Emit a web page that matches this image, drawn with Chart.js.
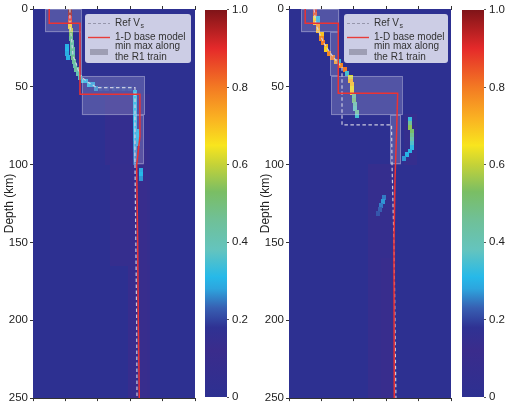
<!DOCTYPE html>
<html><head><meta charset="utf-8">
<script src="https://cdn.jsdelivr.net/npm/chart.js@4/dist/chart.umd.min.js"></script>
<style>
html,body{margin:0;padding:0;background:#fff;width:512px;height:407px;overflow:hidden}
canvas{position:absolute;top:0}
</style></head><body>
<canvas id="mainL" width="200" height="407" style="left:0px"></canvas>
<canvas id="cbarL" width="56" height="407" style="left:200px"></canvas>
<canvas id="mainR" width="200" height="407" style="left:256px"></canvas>
<canvas id="cbarR" width="56" height="407" style="left:456px"></canvas>
<script>
// ---------- ticks ----------
const depthTicks = [0, 50, 100, 150, 200, 250];
const velTicks = [2.5, 3.0, 3.5, 4.0, 4.5, 5.0];
const colorbarTicks = [0, 0.2, 0.4, 0.6, 0.8, 1.0];
const legendLabels = ['Ref V', 's', '1-D base model', 'min max along', 'the R1 train'];

// ---------- left panel ----------
const L_refVel   = [3.07, 3.07, 3.097, 3.117, 3.174, 3.225, 3.349, 3.483, 4.074, 4.074, 4.10, 4.105];
const L_refDepth = [0, 10, 20, 30, 36, 43, 47, 50.5, 50.5, 100, 200, 250];
const L_baseVel   = [2.75, 2.75, 3.225, 3.225, 4.15, 4.15, 4.10, 4.115, 4.125, 4.14];
const L_baseDepth = [0, 9.2, 9.2, 54.7, 54.7, 82, 100, 150, 200, 250];
const L_boxVelMin = [2.685, 3.21, 3.252, 4.06];
const L_boxVelMax = [3.252, 3.256, 4.228, 4.21];
const L_boxDepthTop = [0, 15, 43, 68.2];
const L_boxDepthBot = [15, 43, 68.2, 100];
const L_bandVelMin = [3.62, 3.70, 3.97, 4.02];
const L_bandVelMax = [4.30, 4.30, 4.30, 4.25];
const L_bandDepthTop = [55, 100, 165, 90];
const L_bandDepthBot = [100, 165, 250, 250];
const L_bandVal = [0.06, 0.07, 0.08, 0.1];
const L_cellVel = [3.07,3.07,3.07,3.07,3.07,3.09,3.09,3.09,3.10,3.02,3.10,3.02,3.11,3.02,3.11,3.04,3.12,3.13,3.15,3.17,3.20,3.23,3.27,3.32,3.37,3.42,3.47,
  3.55,3.60,3.65,3.70,3.75,3.80,3.85,3.90,3.95,4.00,
  4.07,4.07,4.07,4.07,4.07,4.07,4.07,4.07,4.07,4.07,4.07,4.07,4.07,4.07,4.07,4.07,4.07,4.07,4.07,
  4.12,4.12,4.12,4.12,
  4.17,4.17,4.17];
const L_cellDepth = [1.25,3.75,6.25,8.75,11.25,13.75,16.25,18.75,21.25,23.75,23.75,26.25,26.25,28.75,28.75,31.25,31.25,33.75,36.25,38.75,41.25,43.75,46.25,46.25,48.75,48.75,51.25,
  51.25,51.25,51.25,51.25,51.25,51.25,51.25,51.25,51.25,51.25,
  53.75,56.25,58.75,61.25,63.75,66.25,68.75,71.25,73.75,76.25,78.75,81.25,83.75,86.25,88.75,91.25,93.75,96.25,98.75,
  78.75,81.25,83.75,86.25,
  103.75,106.25,108.75];
const L_cellVal = [1.0,0.97,0.9,0.84,0.68,0.6,0.52,0.46,0.43,0.3,0.42,0.31,0.44,0.29,0.4,0.3,0.47,0.45,0.42,0.44,0.4,0.37,0.33,0.3,0.32,0.28,0.26,
  0.2,0.19,0.2,0.18,0.2,0.19,0.19,0.2,0.19,0.2,
  0.3,0.32,0.33,0.31,0.32,0.3,0.31,0.32,0.3,0.3,0.29,0.28,0.28,0.27,0.27,0.26,0.25,0.25,0.24,
  0.3,0.31,0.3,0.29,
  0.29,0.31,0.27];

// ---------- right panel ----------
const R_refVel   = [2.886, 2.917, 2.963, 3.04, 3.133, 3.225, 3.318, 3.318, 4.082, 4.09, 4.12, 4.15];
const R_refDepth = [0, 10, 15, 22, 28, 33, 37.5, 74.4, 74.4, 100, 150, 250];
const R_baseVel   = [2.75, 2.75, 3.26, 3.26, 4.177, 4.16, 4.135, 4.12, 4.125];
const R_baseDepth = [0, 9.2, 9.2, 54.2, 54.2, 80, 110, 150, 250];
const R_boxVelMin = [2.685, 3.133, 3.148, 4.06];
const R_boxVelMax = [3.276, 3.272, 4.255, 4.228];
const R_boxDepthTop = [0, 15, 43, 68.2];
const R_boxDepthBot = [15, 43, 68.2, 100];
const R_bandVelMin = [4.28, 3.73, 3.93];
const R_bandVelMax = [4.47, 4.15, 4.12];
const R_bandDepthTop = [68, 100, 160];
const R_bandDepthBot = [100, 250, 250];
const R_bandVal = [0.07, 0.07, 0.1];
const R_cellVel = [2.9,2.9,2.9,2.95,2.9,2.95,2.95,2.95,3.0,3.0,3.03,3.07,3.07,3.12,3.17,3.22,3.27,3.3,3.37,3.4,3.45,3.45,3.47,3.47,3.47,3.5,3.5,3.52,3.52,3.55,3.55,
  4.37,4.37,4.37,4.4,4.4,4.4,4.4,4.4,4.37,4.32,4.28,
  3.97,3.95,3.92,3.9,3.87];
const R_cellDepth = [1.25,3.75,6.25,6.25,8.75,8.75,11.25,13.75,16.25,18.75,21.25,23.75,26.25,28.75,31.25,33.75,33.75,36.25,38.75,41.25,43.75,46.25,48.75,51.25,53.75,56.25,58.75,61.25,63.75,66.25,68.75,
  71.25,73.75,76.25,78.75,81.25,83.75,86.25,88.75,91.25,93.75,96.25,
  121.25,123.75,126.25,128.75,131.25];
const R_cellVal = [0.92,0.85,0.66,0.32,0.7,0.3,0.76,0.72,0.7,0.78,0.8,0.72,0.68,0.78,0.8,0.75,0.34,0.78,0.8,0.35,0.62,0.72,0.7,0.64,0.68,0.45,0.5,0.42,0.38,0.45,0.35,
  0.33,0.45,0.55,0.52,0.47,0.42,0.36,0.32,0.3,0.3,0.27,
  0.25,0.27,0.25,0.23,0.22];

// ---------- styling ----------
const FONT = "'Liberation Sans', Arial, Helvetica, sans-serif";
Chart.defaults.font.family = FONT;
Chart.defaults.color = '#222';
const CELL_DV = 0.05, CELL_DZ = 2.5;
const CMAP = [
  [0.00,[45,48,145]],[0.12,[58,44,140]],[0.18,[47,50,147]],[0.23,[55,95,178]],
  [0.28,[45,165,222]],[0.31,[38,185,233]],[0.38,[100,196,190]],[0.46,[112,192,150]],
  [0.53,[122,190,100]],[0.60,[196,210,56]],[0.65,[248,229,30]],[0.72,[250,178,34]],
  [0.80,[243,122,35]],[0.90,[229,42,42]],[1.00,[127,20,24]]
];
function cmap(v){
  v = Math.max(0, Math.min(1, v));
  for (let i = 1; i < CMAP.length; i++){
    if (v <= CMAP[i][0]){
      const [a, ca] = CMAP[i-1], [b, cb] = CMAP[i];
      const t = (v - a) / (b - a);
      const c = ca.map((k, j) => Math.round(k + (cb[j] - k) * t));
      return `rgb(${c[0]},${c[1]},${c[2]})`;
    }
  }
  const c = CMAP[CMAP.length-1][1];
  return `rgb(${c[0]},${c[1]},${c[2]})`;
}

const PANELS = {
  L: {refVel:L_refVel, refDepth:L_refDepth, baseVel:L_baseVel, baseDepth:L_baseDepth,
      boxVelMin:L_boxVelMin, boxVelMax:L_boxVelMax, boxDepthTop:L_boxDepthTop, boxDepthBot:L_boxDepthBot,
      bandVelMin:L_bandVelMin, bandVelMax:L_bandVelMax, bandDepthTop:L_bandDepthTop, bandDepthBot:L_bandDepthBot, bandVal:L_bandVal,
      cellVel:L_cellVel, cellDepth:L_cellDepth, cellVal:L_cellVal, legX:52, legW:106},
  R: {refVel:R_refVel, refDepth:R_refDepth, baseVel:R_baseVel, baseDepth:R_baseDepth,
      boxVelMin:R_boxVelMin, boxVelMax:R_boxVelMax, boxDepthTop:R_boxDepthTop, boxDepthBot:R_boxDepthBot,
      bandVelMin:R_bandVelMin, bandVelMax:R_bandVelMax, bandDepthTop:R_bandDepthTop, bandDepthBot:R_bandDepthBot, bandVal:R_bandVal,
      cellVel:R_cellVel, cellDepth:R_cellDepth, cellVal:R_cellVal, legX:55, legW:104}
};

function fillBox(ctx, x, y, v0, v1, z0, z1){
  const px0 = Math.floor(x.getPixelForValue(v0)), px1 = Math.ceil(x.getPixelForValue(v1));
  const py0 = Math.floor(y.getPixelForValue(z0)), py1 = Math.ceil(y.getPixelForValue(z1));
  ctx.fillRect(px0, py0, px1 - px0, py1 - py0);
}

const heatPlugin = {
  id: 'heat',
  beforeDatasetsDraw(chart, args, opts){
    const P = opts.panel; if (!P) return;
    const {ctx, chartArea: a} = chart;
    const x = chart.scales.x, y = chart.scales.y;
    ctx.save();
    ctx.beginPath(); ctx.rect(a.left, a.top, a.right - a.left, a.bottom - a.top); ctx.clip();
    ctx.fillStyle = cmap(0);
    fillBox(ctx, x, y, x.min, x.max, y.min, y.max);
    P.bandVal.forEach((v, i) => {
      ctx.fillStyle = cmap(v);
      fillBox(ctx, x, y, P.bandVelMin[i], P.bandVelMax[i], P.bandDepthTop[i], P.bandDepthBot[i]);
    });
    P.cellVal.forEach((v, i) => {
      ctx.fillStyle = cmap(v);
      fillBox(ctx, x, y, P.cellVel[i] - CELL_DV/2, P.cellVel[i] + CELL_DV/2, P.cellDepth[i] - CELL_DZ/2, P.cellDepth[i] + CELL_DZ/2);
    });
    // min-max boxes
    P.boxVelMin.forEach((v0, i) => {
      const px0 = x.getPixelForValue(v0), px1 = x.getPixelForValue(P.boxVelMax[i]);
      const py0 = y.getPixelForValue(P.boxDepthTop[i]), py1 = y.getPixelForValue(P.boxDepthBot[i]);
      ctx.fillStyle = 'rgba(215,215,235,0.22)';
      ctx.fillRect(px0, py0, px1 - px0, py1 - py0);
      ctx.strokeStyle = 'rgba(215,215,235,0.35)';
      ctx.lineWidth = 1;
      ctx.strokeRect(Math.round(px0)+0.5, Math.round(py0)+0.5, Math.round(px1-px0)-1, Math.round(py1-py0)-1);
    });
    ctx.restore();
  },
  afterDatasetsDraw(chart, args, opts){
    const P = opts.panel; if (!P) return;
    const {ctx, chartArea: a} = chart;
    const bx = a.left + P.legX, by = a.top + 5, bw = P.legW, bh = 49;
    ctx.save();
    ctx.fillStyle = 'rgba(255,255,255,0.76)';
    ctx.beginPath();
    ctx.roundRect(bx, by, bw, bh, 3);
    ctx.fill();
    // Ref Vs
    ctx.strokeStyle = 'rgb(150,150,172)'; ctx.lineWidth = 1.2;
    ctx.setLineDash([3, 2]);
    ctx.beginPath(); ctx.moveTo(bx + 3, by + 9.5); ctx.lineTo(bx + 25, by + 9.5); ctx.stroke();
    ctx.setLineDash([]);
    // base model
    ctx.strokeStyle = 'rgb(232,60,58)'; ctx.lineWidth = 1.4;
    ctx.beginPath(); ctx.moveTo(bx + 3, by + 23.5); ctx.lineTo(bx + 25, by + 23.5); ctx.stroke();
    // min max patch
    ctx.fillStyle = 'rgb(158,158,180)';
    ctx.fillRect(bx + 5, by + 35, 18, 6);
    ctx.fillStyle = '#333';
    ctx.textBaseline = 'middle';
    ctx.font = `10px ${FONT}`;
    ctx.fillText(legendLabels[0], bx + 30, by + 9);
    const w = ctx.measureText(legendLabels[0]).width;
    ctx.font = `7px ${FONT}`;
    ctx.fillText(legendLabels[1], bx + 30 + w + 0.5, by + 12);
    ctx.font = `10px ${FONT}`;
    ctx.fillText(legendLabels[2], bx + 30, by + 23);
    ctx.fillText(legendLabels[3], bx + 30, by + 32.5);
    ctx.fillText(legendLabels[4], bx + 30, by + 43.5);
    ctx.restore();
  }
};

function xAxis(pos, h){
  return {
    type: 'linear', position: pos, min: velTicks[0], max: velTicks[velTicks.length-1],
    afterBuildTicks: s => { s.ticks = velTicks.map(v => ({value: v})); },
    ticks: {display: false},
    grid: {drawOnChartArea: false, drawTicks: true, tickLength: 3, color: '#333'},
    border: {display: true, color: '#333', width: 1},
    afterFit: s => { s.height = h; }
  };
}

function mainChart(id, P){
  return new Chart(document.getElementById(id), {
    type: 'scatter',
    data: {datasets: [
      {label: '1-D base model', data: P.baseVel.map((v, i) => ({x: v, y: P.baseDepth[i]})),
       showLine: true, borderColor: 'rgb(236,50,50)', borderWidth: 1.5, pointRadius: 0, fill: false, order: 0},
      {label: 'Ref Vs', data: P.refVel.map((v, i) => ({x: v, y: P.refDepth[i]})),
       showLine: true, borderColor: 'rgba(210,210,228,0.95)', borderDash: [3.5, 2.5], borderWidth: 1.2, pointRadius: 0, fill: false, order: 1}
    ]},
    options: {
      responsive: false, animation: false, events: [],
      layout: {padding: {left: 0, right: 5, top: 0, bottom: 0}},
      plugins: {legend: {display: false}, tooltip: {enabled: false}, heat: {panel: P}},
      scales: {
        x: xAxis('bottom', 2.5),
        x2: xAxis('top', 9),
        y: {
          type: 'linear', reverse: true, min: depthTicks[0], max: depthTicks[depthTicks.length-1],
          afterBuildTicks: s => { s.ticks = depthTicks.map(v => ({value: v})); },
          ticks: {font: {size: 11.5}, color: '#222', padding: 2},
          grid: {drawOnChartArea: false, drawTicks: true, tickLength: 3, color: '#333'},
          border: {display: true, color: '#333', width: 1},
          title: {display: true, text: 'Depth (km)', font: {size: 12}, color: '#222', padding: {top: 2, bottom: 0}},
          afterFit: s => { s.width = 33; }
        }
      }
    },
    plugins: [heatPlugin]
  });
}

function cbarChart(id, padLeft, axisW){
  return new Chart(document.getElementById(id), {
    type: 'bar',
    data: {labels: [''], datasets: [{
      data: [colorbarTicks[colorbarTicks.length-1]],
      borderWidth: 0, barPercentage: 1, categoryPercentage: 1,
      backgroundColor: c => {
        const ch = c.chart; const ys = ch.scales.y;
        if (!ch.chartArea || !ys) return cmap(0);
        const g = ch.ctx.createLinearGradient(0, ys.getPixelForValue(0), 0, ys.getPixelForValue(1));
        CMAP.forEach(s => g.addColorStop(s[0], `rgb(${s[1].join(',')})`));
        return g;
      }
    }]},
    options: {
      responsive: false, animation: false, events: [],
      layout: {padding: {left: padLeft, right: 0, top: 9, bottom: 2.5}},
      plugins: {legend: {display: false}, tooltip: {enabled: false}},
      scales: {
        x: {display: false},
        y: {
          position: 'right', min: 0, max: 1,
          afterBuildTicks: s => { s.ticks = colorbarTicks.map(v => ({value: v})); },
          ticks: {font: {size: 11.5}, color: '#222', padding: 3, callback: v => v === 0 ? '0' : v.toFixed(1)},
          grid: {drawOnChartArea: false, drawTicks: true, tickLength: 2, color: '#555'},
          border: {display: false},
          afterFit: s => { s.width = axisW; }
        }
      }
    }
  });
}

mainChart('mainL', PANELS.L);
cbarChart('cbarL', 5, 29);
mainChart('mainR', PANELS.R);
cbarChart('cbarR', 6, 28);
</script>
</body></html>
